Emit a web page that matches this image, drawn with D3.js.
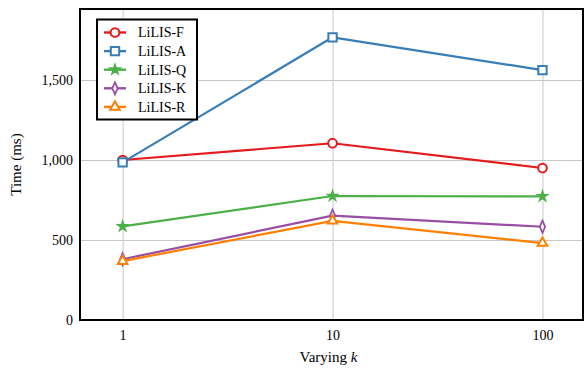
<!DOCTYPE html>
<html>
<head>
<meta charset="utf-8">
<script src="https://cdn.jsdelivr.net/npm/d3@7"></script>
<style>
  body { margin: 0; background: #fff; }
  text { font-family: "Liberation Serif", "DejaVu Serif", serif; }
</style>
</head>
<body>
<div id="chart"></div>
<script>
const xValues = [1, 10, 100];
const seriesNames = ["LiLIS-F", "LiLIS-A", "LiLIS-Q", "LiLIS-K", "LiLIS-R"];
const lilisF = [1000, 1105, 950];
const lilisA = [985, 1767, 1562];
const lilisQ = [585, 775, 773];
const lilisK = [380, 652, 583];
const lilisR = [368, 620, 481];
const yTicks = [0, 500, 1000, 1500];
const colors = ["#e41a1c", "#377eb8", "#4daf4a", "#984ea3", "#ff7f00"];
const markers = ["circle", "square", "star", "diamond", "triangle"];

const series = [lilisF, lilisA, lilisQ, lilisK, lilisR].map((vals, i) => ({
    name: seriesNames[i],
    color: colors[i],
    marker: markers[i],
    data: vals.map((v, j) => ({ x: xValues[j], y: v }))
}));

const width = 584, height = 369;
const margin = { top: 9, right: 1, bottom: 49, left: 80 };

const svg = d3.select("#chart")
    .append("svg")
    .attr("width", width)
    .attr("height", height);

// Define scales (log x, as in the original)
const scaleX = d3.scaleLog()
    .domain([Math.pow(10, -0.203), Math.pow(10, 2.193)])
    .range([margin.left, width - margin.right]);

const scaleY = d3.scaleLinear()
    .domain([0, 1944])
    .range([height - margin.bottom, margin.top]);

const x0 = margin.left, x1 = width - margin.right;
const y0 = height - margin.bottom, y1 = margin.top;

// Gridlines
svg.append("g")
    .attr("transform", "translate(0," + y0 + ")")
    .call(d3.axisBottom(scaleX).tickValues(xValues).tickSize(-(y0 - y1)).tickFormat(""))
    .call(g => g.select(".domain").remove())
    .selectAll("line").attr("stroke", "#c8c8c8").attr("stroke-width", 1);

svg.append("g")
    .attr("transform", "translate(" + x0 + ",0)")
    .call(d3.axisLeft(scaleY).tickValues(yTicks).tickSize(-(x1 - x0)).tickFormat(""))
    .call(g => g.select(".domain").remove())
    .selectAll("line").attr("stroke", "#c8c8c8").attr("stroke-width", 1);

// Tick labels
const xAxis = svg.append("g")
    .attr("transform", "translate(0," + y0 + ")")
    .call(d3.axisBottom(scaleX).tickValues(xValues).tickSize(0).tickPadding(10).tickFormat(d3.format("d")));
xAxis.select(".domain").remove();
xAxis.selectAll("text").attr("font-size", 14).attr("fill", "#000")
    .style("font-family", "'Liberation Serif', serif");

const yAxis = svg.append("g")
    .attr("transform", "translate(" + x0 + ",0)")
    .call(d3.axisLeft(scaleY).tickValues(yTicks).tickSize(0).tickPadding(7).tickFormat(d3.format(",")));
yAxis.select(".domain").remove();
yAxis.selectAll("text").attr("font-size", 14).attr("fill", "#000")
    .style("font-family", "'Liberation Serif', serif");

// Frame
svg.append("rect")
    .attr("x", x0).attr("y", y1)
    .attr("width", x1 - x0).attr("height", y0 - y1)
    .attr("fill", "none")
    .attr("stroke", "#000")
    .attr("stroke-width", 2);

// Marker helper
const symbolFor = (m) => {
    if (m === "circle") return d3.symbol(d3.symbolCircle, 60);
    if (m === "square") return d3.symbol(d3.symbolSquare, 70);
    if (m === "star") return d3.symbol(d3.symbolStar, 30);
    if (m === "diamond") return d3.symbol(d3.symbolDiamond, 34);
    return d3.symbol(d3.symbolTriangle, 40);
};

const drawMarker = (g, m, color, cx, cy) => {
    const p = g.append("path")
        .attr("d", symbolFor(m)())
        .attr("transform", "translate(" + cx + "," + cy + ")" + (m === "diamond" ? " scale(0.85,1.1)" : ""))
        .attr("stroke", color)
        .attr("stroke-width", 2)
        .attr("fill", m === "star" ? color : "#fff");
    if (m === "star") p.attr("stroke-width", 1.5);
};

// Lines and markers
const lineFunc = d3.line()
    .x(d => scaleX(d.x))
    .y(d => scaleY(d.y));

series.forEach(s => {
    svg.append("path")
        .attr("d", lineFunc(s.data))
        .attr("stroke", s.color)
        .attr("stroke-width", 2.2)
        .attr("stroke-linejoin", "round")
        .attr("fill", "none");
});
series.forEach(s => {
    s.data.forEach(d => drawMarker(svg, s.marker, s.color, scaleX(d.x), scaleY(d.y)));
});

// Legend
const legend = svg.append("g");
legend.append("rect")
    .attr("x", 97).attr("y", 19.5)
    .attr("width", 100).attr("height", 100)
    .attr("fill", "#fff")
    .attr("stroke", "#000")
    .attr("stroke-width", 2);

series.forEach((s, i) => {
    const ly = 32.5 + i * 18.6;
    legend.append("line")
        .attr("x1", 104).attr("x2", 126)
        .attr("y1", ly).attr("y2", ly)
        .attr("stroke", s.color)
        .attr("stroke-width", 2.4);
    drawMarker(legend, s.marker, s.color, 115, ly);
    legend.append("text")
        .attr("x", 138).attr("y", ly)
        .attr("dy", "0.35em")
        .attr("font-size", 14)
        .text(s.name);
});

// Axis labels
svg.append("text")
    .attr("x", (x0 + x1) / 2 - 3)
    .attr("y", 362)
    .attr("text-anchor", "middle")
    .attr("font-size", 15)
    .html("Varying <tspan font-style='italic'>k</tspan>");

svg.append("text")
    .attr("transform", "translate(21," + (y0 + y1) / 2 + ") rotate(-90)")
    .attr("text-anchor", "middle")
    .attr("font-size", 15)
    .text("Time (ms)");
</script>
</body>
</html>
